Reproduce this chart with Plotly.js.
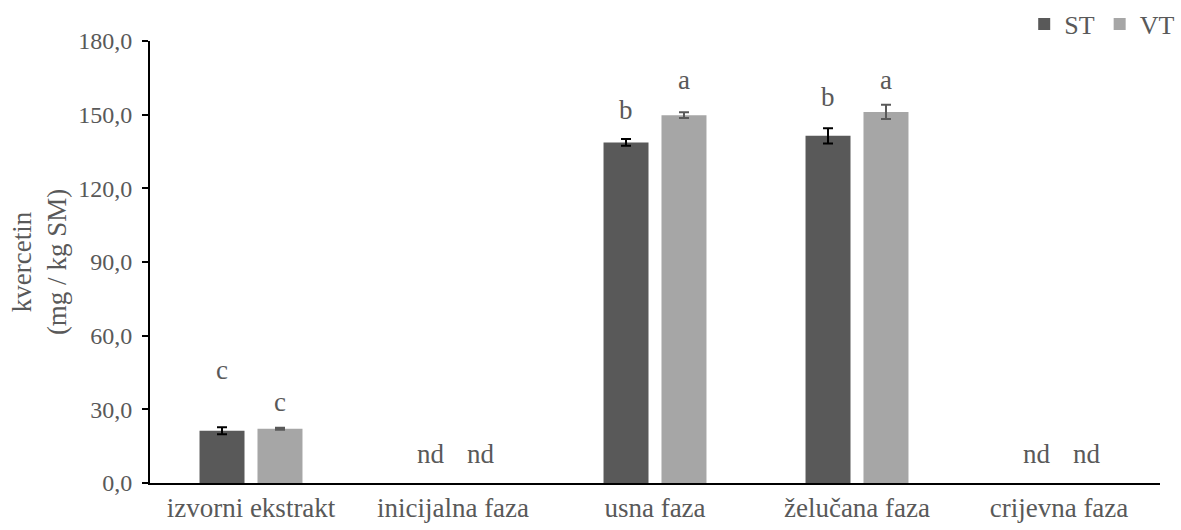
<!DOCTYPE html>
<html>
<head>
<meta charset="utf-8">
<script src="https://cdn.plot.ly/plotly-3.0.1.min.js"></script>
<style>html,body{margin:0;padding:0;background:#fff;}#chart{width:1181px;height:530px;}</style>
</head>
<body>
<div id="chart"></div>
<script>
var categories = ['izvorni ekstrakt', 'inicijalna faza', 'usna faza', 'želučana faza', 'crijevna faza'];
var stValues = [21.3, null, 138.7, 141.4, null];
var stErrors = [1.4, null, 1.35, 3.1, null];
var vtValues = [22.1, null, 149.8, 151.1, null];
var vtErrors = [0.4, null, 1.2, 2.9, null];
var stLabels = ['c', 'nd', 'b', 'b', 'nd'];
var vtLabels = ['c', 'nd', 'a', 'a', 'nd'];
var stLabelY = [46, 12, 152, 157, 12];
var vtLabelY = [33, 12, 164, 164, 12];
var yTicks = [0, 30, 60, 90, 120, 150, 180];

var FONT = '"Liberation Serif", "Times New Roman", serif';
var GREY = '#595959';

var traces = [
  {type: 'bar', name: 'ST', x: categories, y: stValues,
   marker: {color: '#595959'},
   error_y: {type: 'data', array: stErrors, visible: true, color: '#000000', thickness: 2, width: 5}},
  {type: 'bar', name: 'VT', x: categories, y: vtValues,
   marker: {color: '#a6a6a6'},
   error_y: {type: 'data', array: vtErrors, visible: true, color: '#595959', thickness: 2, width: 5}}
];

var annotations = [];
categories.forEach(function(c, i) {
  annotations.push({x: c, y: stLabelY[i], xref: 'x', yref: 'y', xshift: stLabels[i] === 'nd' ? -22 : -29,
    text: stLabels[i], showarrow: false, font: {family: FONT, size: 27, color: GREY}, yanchor: 'middle'});
  annotations.push({x: c, y: vtLabelY[i], xref: 'x', yref: 'y', xshift: vtLabels[i] === 'nd' ? 28 : 29,
    text: vtLabels[i], showarrow: false, font: {family: FONT, size: 27, color: GREY}, yanchor: 'middle'});
});

var layout = {
  width: 1181, height: 530,
  margin: {l: 150, r: 21, t: 41, b: 47, autoexpand: false},
  paper_bgcolor: '#ffffff', plot_bgcolor: '#ffffff',
  font: {family: FONT, size: 24, color: GREY},
  separators: ', ',
  barmode: 'group', bargap: 0.426, bargroupgap: 0.224,
  showlegend: true,
  legend: {orientation: 'h', x: 1.02, xanchor: 'right', y: 0.985, yanchor: 'bottom',
           font: {family: FONT, size: 26, color: GREY}, itemwidth: 30, tracegroupgap: 0},
  xaxis: {showline: true, linecolor: '#000000', linewidth: 2, ticks: '', showgrid: false,
          zeroline: false, tickfont: {family: FONT, size: 27, color: GREY}},
  yaxis: {range: [0, 180], tickvals: yTicks, tickformat: '.1f', showline: true, linecolor: '#000000',
          linewidth: 2, ticks: 'outside', ticklen: 6, tickwidth: 2, tickcolor: '#000000', showgrid: false,
          ticklabelstandoff: 5,
          zeroline: false, tickfont: {family: FONT, size: 24, color: GREY},
          title: {text: 'kvercetin<br>(mg / kg SM)', font: {family: FONT, size: 27, color: GREY}, standoff: 4}},
  annotations: annotations
};

Plotly.newPlot('chart', traces, layout, {displayModeBar: false, staticPlot: true});
</script>
</body>
</html>
